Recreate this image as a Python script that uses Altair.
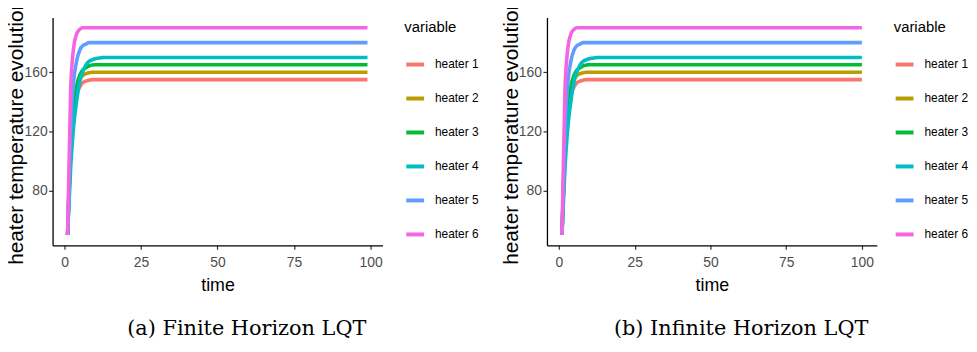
import altair as alt
import pandas as pd

# ---------------- data ----------------
heaters = ["heater 1", "heater 2", "heater 3", "heater 4", "heater 5", "heater 6"]
colors = ["#F8766D", "#B79F00", "#00BA38", "#00BFC4", "#619CFF", "#F564E3"]

rise_times = [1, 2, 3, 4, 5, 6, 7, 8, 9, 10, 11, 12, 13, 14, 15]
heater1 = [50, 108, 134, 145, 150, 153, 154, 154.6, 155, 155, 155, 155, 155, 155, 155]
heater2 = [50, 111, 138, 150, 155, 158, 159, 159.6, 160, 160, 160, 160, 160, 160, 160]
heater3 = [50, 107, 136, 151, 158, 161.5, 163, 164.3, 164.8, 165, 165, 165, 165, 165, 165]
heater4 = [50, 95, 124, 141, 154, 160.5, 165, 167.3, 168.4, 169.1, 169.5, 169.8, 170, 170, 170]
heater5 = [50, 122, 154, 168, 175, 178, 179, 180, 180, 180, 180, 180, 180, 180, 180]
heater6 = [50, 148, 177, 186, 189, 190, 190, 190, 190, 190, 190, 190, 190, 190, 190]
final_values = [155, 160, 165, 170, 180, 190]

end_time_finite = 99
end_time_infinite = 100

x_ticks = [0, 25, 50, 75, 100]
y_ticks = [80, 120, 160]
captions = ["(a) Finite Horizon LQT", "(b) Infinite Horizon LQT"]

series = [heater1, heater2, heater3, heater4, heater5, heater6]


def build_frame(end_time):
    rows = []
    for name, vals, final in zip(heaters, series, final_values):
        for t, v in zip(rise_times, vals):
            rows.append({"time": t, "value": v, "variable": name})
        rows.append({"time": end_time, "value": final, "variable": name})
    return pd.DataFrame(rows)


SANS = "Liberation Sans"
W, H = 333, 230


def panel(df, x_domain, caption, legend_x):
    lines = alt.Chart(df).mark_line(strokeWidth=3.6, interpolate="monotone").encode(
        x=alt.X("time:Q",
                scale=alt.Scale(domain=x_domain, nice=False, zero=False),
                axis=alt.Axis(values=x_ticks, title="time", format="d",
                              labelPadding=6, titleBaseline="alphabetic",
                              titleY=46, titleX=W / 2)),
        y=alt.Y("value:Q",
                scale=alt.Scale(domain=[43, 197], nice=False, zero=False),
                axis=alt.Axis(values=y_ticks, title="heater temperature evolution",
                              titleFont=SANS, titleFontSize=21, labelPadding=1.5,
                              titleX=-26, titleY=H / 2, titleBaseline="bottom")),
        color=alt.Color("variable:N",
                        scale=alt.Scale(domain=heaters, range=colors),
                        legend=alt.Legend(title="variable", orient="none",
                                          legendX=legend_x, legendY=3)),
    )
    cap = alt.Chart(pd.DataFrame({"caption": [caption]})).mark_text(
        font="DejaVu Serif", fontSize=21, align="center", baseline="alphabetic",
        color="black"
    ).encode(text="caption:N", x=alt.value(196), y=alt.value(321))
    return alt.layer(lines, cap).properties(width=W, height=H)


pa = panel(build_frame(end_time_finite), [-3.9, 103.9], captions[0], 355)
pb = panel(build_frame(end_time_infinite), [-3.95, 104.95], captions[1], 350)

chart = alt.hconcat(pa, pb, spacing=20).resolve_scale(
    color="independent", x="independent", y="independent"
).resolve_legend(color="independent").properties(
    padding={"left": -3, "top": -12, "right": 0, "bottom": -1}
).configure_view(stroke=None).configure_axis(
    grid=False, domainColor="black", domainWidth=1.3, tickColor="#333333",
    tickSize=4, tickWidth=1.2, labelFont=SANS, labelFontSize=14,
    labelColor="#4D4D4D", titleFont=SANS, titleFontSize=18,
    titleFontWeight="normal", titleColor="black"
).configure_legend(
    padding=0, titleFont=SANS, titleFontSize=15,
    titleFontWeight="normal", titleColor="black", titlePadding=18.5,
    labelFont=SANS, labelFontSize=12, labelColor="black", labelOffset=9,
    symbolType="stroke", symbolSize=324, symbolStrokeWidth=4, rowPadding=15.3
)

chart.save("out.html", embed_options={"renderer": "svg", "actions": False})
